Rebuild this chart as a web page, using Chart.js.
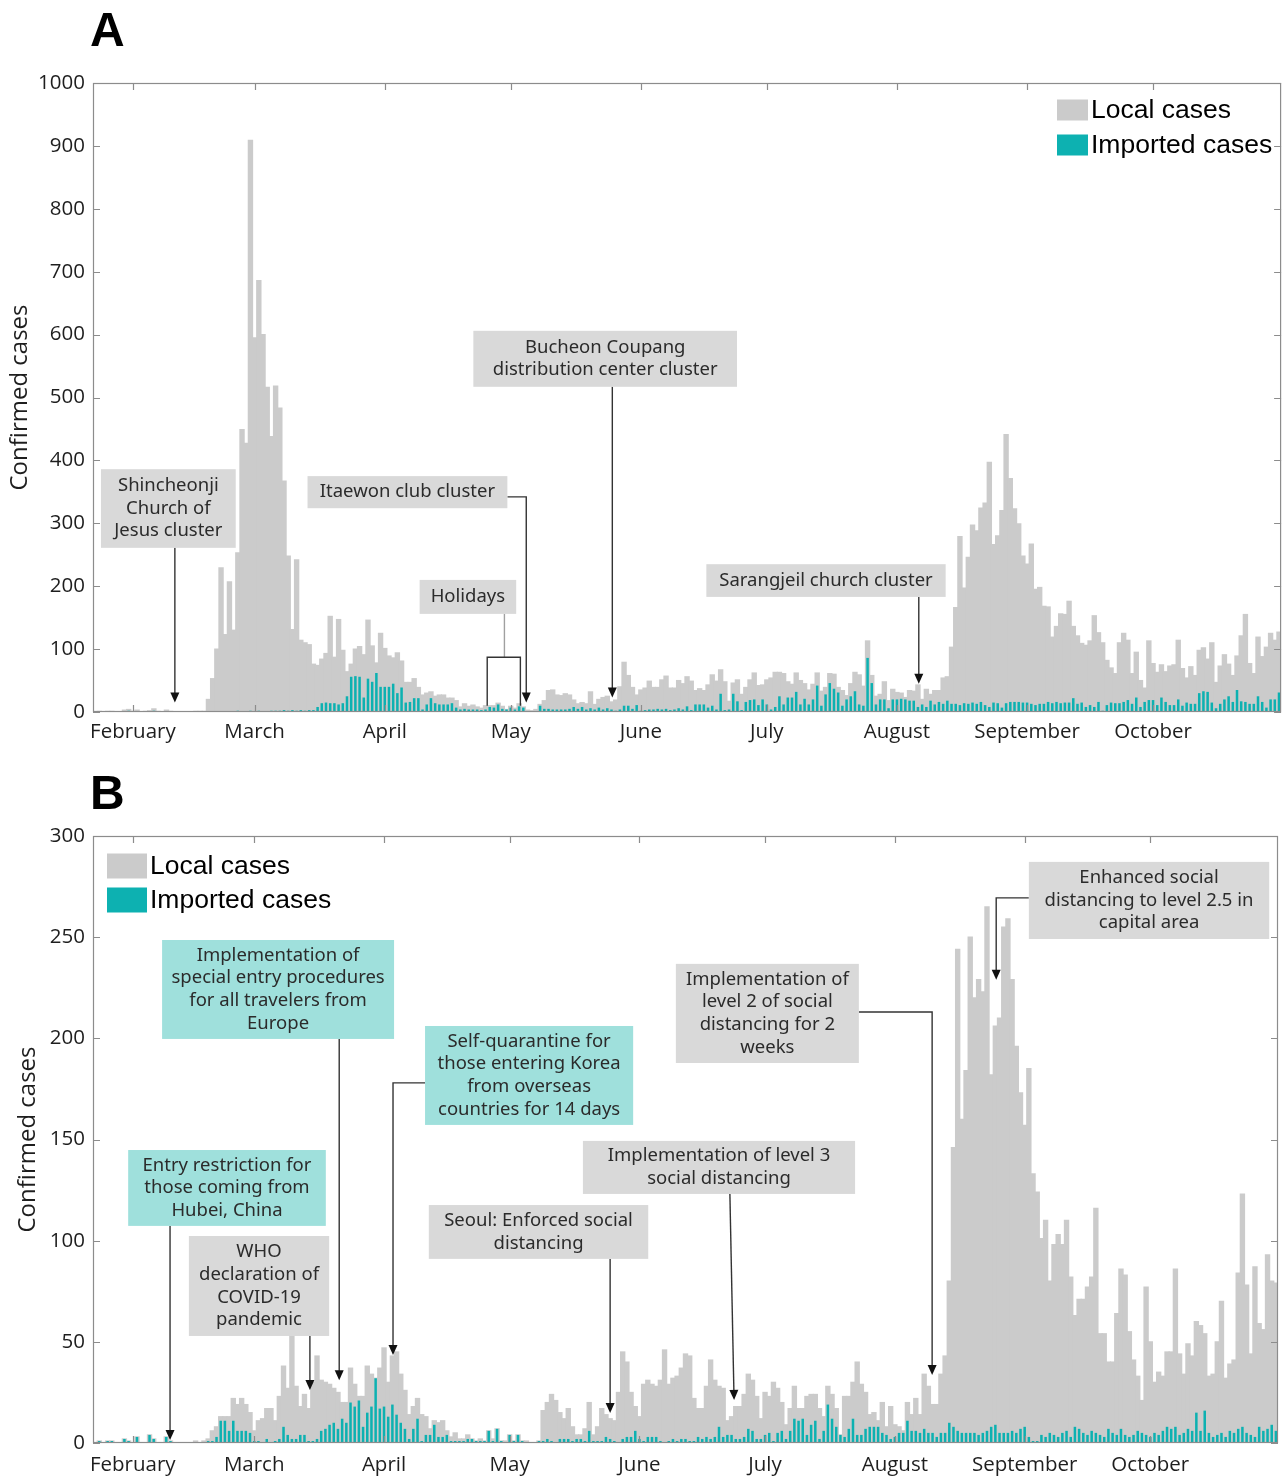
<!DOCTYPE html>
<html>
<head>
<meta charset="utf-8">
<title>Daily confirmed COVID-19 cases, Korea 2020</title>
<script src="https://cdn.jsdelivr.net/npm/chart.js@4.4.1/dist/chart.umd.min.js"></script>
<style>
  html, body { margin: 0; padding: 0; background: #ffffff; }
  #page { position: relative; width: 1287px; height: 1478px; overflow: hidden; }
  .tag { position: absolute; left: 90px; font: bold 48px "Liberation Sans", Arial, sans-serif; line-height: 48px; color: #000; }
  .panel { position: absolute; left: 0; width: 1287px; }
  canvas { display: block; }
</style>
</head>
<body>
<div id="page">
  <div class="panel" style="top:0;height:760px"><canvas id="chartA" width="1287" height="760"></canvas></div>
  <div class="panel" style="top:760px;height:718px"><canvas id="chartB" width="1287" height="718"></canvas></div>
  <div class="tag" style="top:6px">A</div>
  <div class="tag" style="top:769px">B</div>
</div>
<script>
// ---- calendar ---------------------------------------------------------
const monthNames = ['January', 'February', 'March', 'April', 'May', 'June', 'July',
                    'August', 'September', 'October', 'November', 'December'];
const firstDay = [2020, 0, 23];   // series start: 23 January 2020

// ---- A: whole country, daily confirmed (all) and imported -------------
// Each month on its own line: Jan 23-31, then Feb ... Oct.
const confirmedA = [
  0, 1, 0, 1, 1, 0, 0, 3, 4,
  1, 3, 0, 1, 2, 5, 1, 0, 3, 1, 0, 0, 0, 0, 0, 1, 1, 1, 20, 53, 100, 229, 123, 207, 130, 253, 449, 427, 909,
  595, 686, 600, 516, 438, 518, 483, 367, 248, 131, 242, 114, 110, 107, 76, 74, 84, 93, 152, 87, 147, 98, 64, 76, 100, 104, 91, 146, 105, 78, 125,
  101, 89, 86, 94, 81, 47, 47, 53, 39, 27, 30, 32, 25, 27, 27, 22, 22, 18, 8, 13, 9, 11, 8, 6, 10, 10, 10, 14, 9, 4,
  9, 6, 13, 8, 3, 2, 4, 12, 18, 34, 35, 27, 26, 29, 27, 19, 13, 15, 13, 32, 12, 20, 23, 25, 16, 19, 40, 79, 58, 39, 27,
  35, 38, 49, 39, 39, 51, 57, 38, 38, 50, 45, 56, 49, 34, 37, 34, 43, 59, 49, 67, 48, 17, 46, 51, 28, 39, 51, 62, 42, 43,
  51, 54, 63, 63, 61, 48, 44, 62, 50, 45, 35, 44, 62, 33, 39, 61, 60, 39, 34, 26, 45, 63, 59, 41, 113, 58, 25, 28, 48, 18, 36,
  31, 30, 23, 34, 33, 43, 20, 36, 28, 34, 34, 54, 56, 103, 166, 279, 197, 246, 297, 288, 324, 332, 397, 266, 280, 320, 441, 371, 323, 299, 248,
  235, 267, 195, 198, 168, 167, 119, 136, 156, 155, 176, 136, 121, 109, 106, 113, 153, 126, 110, 82, 70, 61, 110, 125, 114, 61, 95, 50, 38, 113,
  77, 63, 75, 64, 73, 75, 114, 69, 54, 72, 58, 98, 102, 84, 110, 47, 73, 91, 76, 58, 89, 121, 155, 77, 61, 119, 88, 103, 125, 114, 127
];
const importedA = [
  0, 1, 0, 1, 1, 0, 0, 1, 2,
  1, 1, 0, 0, 1, 2, 0, 0, 1, 1, 0, 0, 0, 0, 0, 0, 0, 0, 1, 1, 1, 1, 0, 1, 1, 2, 1, 1, 2,
  1, 2, 1, 1, 2, 2, 2, 3, 2, 3, 2, 3, 2, 3, 3, 8, 14, 15, 14, 14, 12, 14, 25, 56, 57, 56, 23, 53, 48, 62, 40,
  40, 40, 45, 30, 39, 15, 16, 22, 22, 4, 12, 22, 14, 12, 12, 12, 14, 7, 4, 5, 4, 4, 4, 3, 4, 8, 7, 12, 5, 4,
  7, 4, 9, 7, 1, 0, 1, 10, 5, 5, 4, 4, 4, 4, 5, 8, 5, 8, 4, 6, 4, 7, 4, 6, 4, 2, 4, 10, 10, 5, 11,
  2, 3, 4, 4, 5, 4, 5, 3, 4, 6, 4, 9, 3, 12, 12, 12, 7, 10, 4, 29, 3, 4, 29, 17, 3, 16, 19, 20, 11, 20,
  12, 4, 8, 25, 12, 23, 23, 32, 12, 21, 12, 20, 42, 10, 28, 46, 37, 31, 10, 20, 25, 33, 12, 10, 86, 46, 12, 20, 20, 6, 20,
  20, 21, 20, 18, 18, 8, 12, 8, 18, 12, 16, 13, 18, 13, 13, 11, 14, 13, 15, 13, 16, 11, 8, 15, 14, 7, 14, 16, 16, 16, 15,
  15, 13, 11, 13, 13, 16, 14, 16, 14, 15, 15, 22, 13, 15, 8, 11, 8, 16, 2, 11, 15, 14, 14, 16, 19, 13, 23, 8, 16, 19,
  19, 11, 23, 16, 11, 11, 20, 10, 15, 13, 13, 30, 33, 32, 15, 6, 13, 20, 25, 16, 35, 17, 16, 13, 13, 25, 16, 7, 20, 20, 31
];

// ---- B: capital area, daily confirmed (all) and imported ---------------
const confirmedB = [
  0, 1, 0, 1, 1, 0, 0, 2, 1,
  0, 3, 0, 0, 4, 2, 0, 0, 3, 1, 0, 0, 0, 0, 0, 1, 0, 1, 2, 6, 8, 13, 13, 13, 22, 19, 22, 19, 15,
  6, 11, 12, 17, 17, 11, 23, 38, 27, 56, 28, 18, 24, 17, 30, 43, 31, 30, 29, 27, 25, 20, 20, 37, 29, 23, 23, 38, 34, 32, 37,
  47, 30, 43, 45, 34, 26, 14, 18, 22, 14, 13, 7, 11, 10, 11, 6, 3, 5, 2, 2, 4, 2, 1, 2, 1, 6, 2, 7, 1, 1,
  4, 1, 4, 1, 1, 0, 0, 1, 16, 20, 24, 21, 15, 12, 17, 8, 4, 4, 7, 20, 4, 8, 17, 14, 12, 11, 25, 45, 40, 25, 18,
  13, 29, 31, 29, 28, 31, 46, 29, 32, 33, 37, 44, 43, 22, 17, 17, 28, 41, 31, 28, 27, 11, 13, 18, 18, 24, 34, 31, 23, 12,
  25, 23, 30, 27, 20, 9, 17, 28, 17, 17, 23, 24, 24, 17, 13, 28, 24, 17, 4, 23, 23, 30, 40, 29, 25, 14, 15, 11, 20, 8, 18,
  9, 8, 6, 20, 14, 22, 14, 34, 28, 19, 19, 34, 43, 80, 146, 244, 160, 184, 250, 220, 229, 223, 265, 182, 206, 210, 255, 259, 229, 196, 173,
  157, 185, 133, 124, 101, 110, 80, 98, 103, 98, 110, 82, 63, 71, 71, 77, 82, 116, 54, 54, 40, 40, 64, 86, 83, 55, 41, 33, 21, 77,
  50, 30, 35, 33, 45, 45, 86, 44, 34, 49, 43, 60, 58, 54, 33, 34, 50, 70, 32, 39, 41, 84, 123, 78, 44, 87, 59, 56, 93, 80, 79
];
const importedB = [
  0, 1, 0, 1, 1, 0, 0, 2, 1,
  0, 3, 0, 0, 4, 2, 0, 0, 3, 1, 0, 0, 0, 0, 0, 0, 0, 0, 1, 1, 3, 11, 11, 6, 11, 6, 6, 6, 5,
  1, 1, 0, 2, 0, 1, 2, 8, 4, 2, 2, 4, 4, 1, 1, 2, 6, 7, 9, 10, 7, 12, 10, 20, 18, 21, 8, 15, 18, 32, 17,
  18, 13, 19, 14, 10, 7, 2, 7, 12, 1, 4, 4, 9, 3, 3, 4, 1, 1, 1, 1, 2, 2, 1, 1, 1, 6, 1, 7, 1, 0,
  4, 1, 4, 1, 0, 0, 0, 1, 1, 2, 1, 0, 2, 2, 2, 1, 2, 2, 1, 6, 1, 1, 1, 3, 2, 1, 0, 2, 3, 3, 6,
  2, 1, 3, 3, 3, 1, 0, 1, 2, 1, 2, 2, 1, 1, 3, 2, 3, 2, 3, 8, 3, 4, 4, 2, 2, 3, 7, 6, 2, 2,
  4, 5, 1, 5, 6, 2, 6, 12, 11, 12, 4, 9, 11, 2, 6, 19, 12, 8, 4, 3, 7, 12, 4, 4, 7, 8, 8, 8, 5, 4, 2,
  3, 5, 5, 11, 6, 6, 5, 7, 5, 5, 3, 5, 5, 10, 8, 6, 5, 5, 5, 5, 4, 5, 6, 8, 9, 5, 5, 5, 6, 5, 7,
  8, 3, 1, 1, 4, 3, 5, 4, 3, 5, 6, 3, 8, 7, 5, 4, 6, 5, 4, 3, 7, 5, 4, 7, 4, 3, 4, 6, 5, 4,
  3, 5, 4, 6, 8, 7, 8, 4, 5, 7, 6, 15, 6, 16, 5, 3, 4, 5, 3, 6, 5, 7, 8, 5, 4, 3, 8, 6, 7, 9, 6
];

// ---- colours & fonts ---------------------------------------------------
const LOCAL_GREY  = '#cbcbcb';
const IMPORT_TEAL = '#0db1b1';
const BOX_GREY    = '#d9d9d9';
const BOX_TEAL    = '#9fe0dc';
const FRAME       = '#8c8c8c';
const INK         = '#1e1e1e';
const NOTE_FONT   = '18.5px "Noto Sans", "Open Sans", sans-serif';
const AXIS_FAMILY = '"Open Sans", "Noto Sans", sans-serif';
const LEGEND_FONT = '26.5px "Liberation Sans", Arial, sans-serif';

// ---- day axis ----------------------------------------------------------
const days = confirmedA.map((_, i) => new Date(firstDay[0], firstDay[1], firstDay[2] + i));
const dayLabels = days.map(d =>
  d.getFullYear() + '-' + String(d.getMonth() + 1).padStart(2, '0') + '-' + String(d.getDate()).padStart(2, '0'));
const monthStarts = days.map((d, i) => (d.getDate() === 1 ? i : -1)).filter(i => i >= 0);

// ---- plugins -----------------------------------------------------------
// Thin frame round the plot with inward tick marks on all four sides.
const frameTicks = {
  id: 'frameTicks',
  afterDatasetsDraw(chart, args, opts) {
    const { ctx, chartArea: a, scales: { x, y } } = chart;
    const L = opts.length;
    ctx.save();
    ctx.strokeStyle = FRAME;
    ctx.lineWidth = 1.2;
    ctx.strokeRect(a.left + 0.5, a.top + 0.5, a.right - a.left - 1, a.bottom - a.top - 1);
    ctx.beginPath();
    y.ticks.forEach(t => {
      const py = Math.round(y.getPixelForValue(t.value)) + 0.5;
      ctx.moveTo(a.left, py); ctx.lineTo(a.left + L, py);
      ctx.moveTo(a.right, py); ctx.lineTo(a.right - L, py);
    });
    monthStarts.forEach(i => {
      const px = Math.round(x.getPixelForValue(i)) + 0.5;
      ctx.moveTo(px, a.bottom); ctx.lineTo(px, a.bottom - L);
      ctx.moveTo(px, a.top); ctx.lineTo(px, a.top + L);
    });
    ctx.stroke();
    ctx.restore();
  }
};

// Event notes: shaded box with centred text and a leader line ending in an arrow.
// Box and line points are given in axis units (day index, case count).
const callouts = {
  id: 'callouts',
  afterDatasetsDraw(chart, args, opts) {
    const { ctx, scales: { x, y } } = chart;
    const X = v => x.getPixelForValue(v);
    const Y = v => y.getPixelForValue(v);
    ctx.save();
    for (const c of opts.items) {
      for (const p of c.paths) {
        const pts = p.pts.map(([a, b]) => [X(a), Y(b)]);
        const head = 10, half = 4.5;
        const [tx, ty] = pts[pts.length - 1];
        const [fx, fy] = pts[pts.length - 2];
        const len = Math.hypot(tx - fx, ty - fy) || 1;
        const ux = (tx - fx) / len, uy = (ty - fy) / len;
        ctx.strokeStyle = p.color || '#333333';
        ctx.lineWidth = 1.4;
        ctx.beginPath();
        pts.forEach(([px, py], k) => {
          if (k === pts.length - 1 && p.arrow) { px -= ux * head * 0.8; py -= uy * head * 0.8; }
          k ? ctx.lineTo(px, py) : ctx.moveTo(px, py);
        });
        ctx.stroke();
        if (p.arrow) {
          ctx.fillStyle = '#111111';
          ctx.beginPath();
          ctx.moveTo(tx, ty);
          ctx.lineTo(tx - ux * head - uy * half, ty - uy * head + ux * half);
          ctx.lineTo(tx - ux * head + uy * half, ty - uy * head - ux * half);
          ctx.closePath();
          ctx.fill();
        }
      }
      const x0 = X(c.box[0]), x1 = X(c.box[1]), y0 = Y(c.box[2]), y1 = Y(c.box[3]);
      ctx.fillStyle = c.fill;
      ctx.fillRect(x0, y0, x1 - x0, y1 - y0);
      ctx.fillStyle = '#2b2b2b';
      ctx.font = NOTE_FONT;
      ctx.textAlign = 'center';
      ctx.textBaseline = 'middle';
      const lh = 22.6, n = c.text.length, cy = (y0 + y1) / 2;
      c.text.forEach((t, k) => ctx.fillText(t, (x0 + x1) / 2, cy + (k - (n - 1) / 2) * lh));
    }
    ctx.restore();
  }
};

// Legend drawn as wide colour swatches stacked in a column.
const swatchLegend = {
  id: 'swatchLegend',
  afterDraw(chart, args, opts) {
    const { ctx } = chart;
    ctx.save();
    ctx.font = LEGEND_FONT;
    ctx.textAlign = 'left';
    ctx.textBaseline = 'middle';
    chart.data.datasets.forEach((ds, k) => {
      const cy = opts.y + k * opts.gap;
      ctx.fillStyle = ds.backgroundColor;
      ctx.fillRect(opts.x, cy - opts.h / 2, opts.w, opts.h);
      ctx.fillStyle = '#000000';
      ctx.fillText(ds.label, opts.x + opts.w + 3, cy + 1);
    });
    ctx.restore();
  }
};

// ---- chart factory -----------------------------------------------------
function buildChart(id, spec) {
  return new Chart(document.getElementById(id), {
    type: 'bar',
    data: {
      labels: dayLabels,
      datasets: [
        { label: 'Local cases', data: spec.confirmed, backgroundColor: LOCAL_GREY,
          barPercentage: 1, categoryPercentage: 1, grouped: false, order: 1, borderWidth: 0, inflateAmount: 0.6 },
        { label: 'Imported cases', data: spec.imported, backgroundColor: IMPORT_TEAL,
          barPercentage: 0.6, categoryPercentage: 1, grouped: false, order: 0, borderWidth: 0 }
      ]
    },
    options: {
      responsive: false,
      animation: false,
      events: [],
      layout: { padding: spec.padding },
      scales: {
        x: {
          grid: { display: false, drawTicks: false },
          border: { display: false },
          ticks: {
            autoSkip: false, maxRotation: 0, minRotation: 0, padding: spec.xPad, color: INK,
            font: { family: AXIS_FAMILY, size: 20.5 },
            callback: (v, i) => (days[i].getDate() === 1 ? monthNames[days[i].getMonth()] : '')
          },
          afterFit: s => { s.height = spec.xHeight; }
        },
        y: {
          min: 0, max: spec.yMax,
          grid: { display: false, drawTicks: false },
          border: { display: false },
          ticks: { stepSize: spec.yStep, padding: 8, color: INK, font: { family: AXIS_FAMILY, size: 20.5 },
                   callback: v => String(v) },
          title: { display: true, text: 'Confirmed cases', color: INK,
                   font: { family: AXIS_FAMILY, size: 24 }, padding: { top: spec.titlePad, bottom: 0 } },
          afterFit: s => { s.width = 93; }
        }
      },
      plugins: {
        legend: { display: false },
        tooltip: { enabled: false },
        frameTicks: { length: 7 },
        callouts: { items: spec.notes },
        swatchLegend: spec.legend
      }
    },
    plugins: [frameTicks, callouts, swatchLegend]
  });
}

// ---- panel A -------------------------------------------------------------
const notesA = [
  { text: ['Shincheonji', 'Church of', 'Jesus cluster'], fill: BOX_GREY, box: [1.4, 33.5, 386, 261],
    paths: [{ pts: [[19.0, 261], [19.0, 15]], arrow: true }] },
  { text: ['Itaewon club cluster'], fill: BOX_GREY, box: [50.6, 98.2, 375, 324],
    paths: [{ pts: [[98.2, 342], [102.7, 342], [102.7, 15]], arrow: true }] },
  { text: ['Holidays'], fill: BOX_GREY, box: [77.3, 100.3, 210, 156],
    paths: [{ pts: [[97.5, 156], [97.5, 87]], arrow: false, color: '#a0a0a0' },
            { pts: [[93.4, 10], [93.4, 87], [101.3, 87], [101.3, 10]], arrow: false }] },
  { text: ['Bucheon Coupang', 'distribution center cluster'], fill: BOX_GREY, box: [90.1, 152.9, 606, 517],
    paths: [{ pts: [[123.2, 517], [123.2, 23]], arrow: true }] },
  { text: ['Sarangjeil church cluster'], fill: BOX_GREY, box: [145.6, 202.6, 235, 183],
    paths: [{ pts: [[196.2, 183], [196.2, 45]], arrow: true }] }
];

buildChart('chartA', {
  confirmed: confirmedA, imported: importedA,
  yMax: 1000, yStep: 100,
  padding: { left: 0, top: 83, right: 4, bottom: 0 },
  xHeight: 48, xPad: 8, titlePad: 6,
  notes: notesA,
  legend: { x: 1057, y: 110, w: 31, h: 21, gap: 35 }
});

// ---- panel B -------------------------------------------------------------
const notesB = [
  { text: ['Implementation of', 'special entry procedures', 'for all travelers from', 'Europe'], fill: BOX_TEAL,
    box: [16.0, 71.4, 248.6, 199.7], paths: [{ pts: [[58.3, 199.7], [58.3, 31.0]], arrow: true }] },
  { text: ['Self-quarantine for', 'those entering Korea', 'from overseas', 'countries for 14 days'], fill: BOX_TEAL,
    box: [78.8, 128.5, 206.1, 157.2], paths: [{ pts: [[78.8, 178], [71.15, 178], [71.15, 43.5]], arrow: true }] },
  { text: ['Entry restriction for', 'those coming from', 'Hubei, China'], fill: BOX_TEAL,
    box: [7.9, 55.1, 144.8, 107.3], paths: [{ pts: [[17.9, 107.3], [17.9, 1.5]], arrow: true }] },
  { text: ['WHO', 'declaration of', 'COVID-19', 'pandemic'], fill: BOX_GREY,
    box: [22.4, 55.9, 102.3, 52.9], paths: [{ pts: [[51.3, 52.9], [51.3, 26.2]], arrow: true }] },
  { text: ['Seoul: Enforced social', 'distancing'], fill: BOX_GREY,
    box: [79.7, 132.1, 117.6, 91], paths: [{ pts: [[123.0, 91], [123.0, 14.8]], arrow: true }] },
  { text: ['Implementation of level 3', 'social distancing'], fill: BOX_GREY,
    box: [116.5, 181.5, 149.3, 123.1], paths: [{ pts: [[151.6, 123.1], [152.6, 21.3]], arrow: true }] },
  { text: ['Implementation of', 'level 2 of social', 'distancing for 2', 'weeks'], fill: BOX_GREY,
    box: [138.7, 182.4, 236.8, 187.8], paths: [{ pts: [[182.4, 213], [199.9, 213], [199.9, 33.6]], arrow: true }] },
  { text: ['Enhanced social', 'distancing to level 2.5 in', 'capital area'], fill: BOX_GREY,
    box: [223.0, 280.4, 287.2, 249.1], paths: [{ pts: [[223.0, 269.4], [215.2, 269.4], [215.2, 228.9]], arrow: true }] }
];

buildChart('chartB', {
  confirmed: confirmedB, imported: importedB,
  yMax: 300, yStep: 50,
  padding: { left: 0, top: 76, right: 9, bottom: 0 },
  xHeight: 35, xPad: 10, titlePad: 14,
  notes: notesB,
  legend: { x: 107, y: 106, w: 40, h: 25, gap: 34 }
});
</script>
</body>
</html>
